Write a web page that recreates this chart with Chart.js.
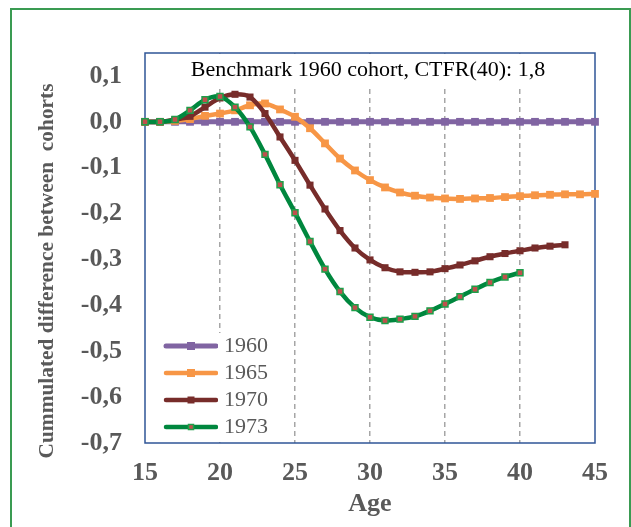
<!DOCTYPE html>
<html>
<head>
<meta charset="UTF-8" />
<title>Cummulated difference between cohorts</title>
<script src="https://cdn.jsdelivr.net/npm/chart.js"></script>
<style>
  body { margin: 0; background: #fff; overflow: hidden; }
  #frame { position: absolute; left: 10px; top: 8px; width: 617px; height: 600px; border: 2px solid #3a9b52; }
  #wrap { position: absolute; left: 0; top: 0; width: 631px; height: 527px; }
</style>
</head>
<body>
<div id="frame"></div>
<div id="wrap"><canvas id="cohortChart"></canvas></div>
<script>
// ages on the x axis (one point per year)
const ages = [15, 16, 17, 18, 19, 20, 21, 22, 23, 24, 25, 26, 27, 28, 29, 30,
              31, 32, 33, 34, 35, 36, 37, 38, 39, 40, 41, 42, 43, 44, 45];

// cumulated difference vs the 1960 cohort
const cohort1960 = [0, 0, 0, 0, 0, 0, 0, 0, 0, 0, 0, 0, 0, 0, 0, 0,
                    0, 0, 0, 0, 0, 0, 0, 0, 0, 0, 0, 0, 0, 0, 0];
const cohort1965 = [0, 0, 0.002, 0.006, 0.013, 0.018, 0.025, 0.036, 0.040, 0.027, 0.011,
                    -0.014, -0.047, -0.080, -0.106, -0.127, -0.143, -0.154, -0.161, -0.165, -0.167,
                    -0.168, -0.167, -0.166, -0.164, -0.162, -0.160, -0.159, -0.158, -0.158, -0.157];
const cohort1970 = [0, 0, 0.005, 0.012, 0.032, 0.052, 0.060, 0.054, 0.018, -0.033, -0.084,
                    -0.138, -0.190, -0.237, -0.275, -0.301, -0.318, -0.327, -0.328, -0.327, -0.320,
                    -0.312, -0.303, -0.294, -0.287, -0.281, -0.275, -0.271, -0.268];
const cohort1973 = [0, 0, 0.005, 0.025, 0.048, 0.055, 0.032, -0.011, -0.071, -0.137, -0.198,
                    -0.261, -0.321, -0.370, -0.405, -0.426, -0.433, -0.430, -0.424, -0.412, -0.397,
                    -0.381, -0.365, -0.350, -0.338, -0.329];

const seriesNames = ['1960', '1965', '1970', '1973'];
const xTicks = [15, 20, 25, 30, 35, 40, 45];
const yTicks = [-0.7, -0.6, -0.5, -0.4, -0.3, -0.2, -0.1, 0, 0.1];

const headerText = 'Benchmark 1960 cohort, CTFR(40): 1,8';
const yTitleText = 'Cummulated difference between  cohorts';

const serif = '"Liberation Serif", "Times New Roman", serif';
const grey = '#595959';

function toPoints(values) {
    return values.map((v, i) => ({ x: ages[i], y: v }));
}

// legend symbol: line with a square marker in the middle
function legendIcon(lineColor, lineWidth, fill, edge, side) {
    const c = document.createElement('canvas');
    c.width = 73; c.height = 12;
    const g = c.getContext('2d');
    g.strokeStyle = lineColor;
    g.lineWidth = lineWidth;
    g.lineCap = 'round';
    g.beginPath(); g.moveTo(21, 6); g.lineTo(71, 6); g.stroke();
    g.fillStyle = fill;
    g.fillRect(46 - side / 2, 6 - side / 2, side, side);
    if (edge) {
        g.strokeStyle = edge; g.lineWidth = 1.5;
        g.strokeRect(46 - side / 2, 6 - side / 2, side, side);
    }
    return c;
}

const legendIcons = [
    legendIcon('#8064A2', 5, '#8064A2', null, 8),
    legendIcon('#F79646', 4.5, '#F79646', null, 8),
    legendIcon('#772C2A', 4.5, '#772C2A', null, 7),
    legendIcon('#00873E', 4.5, '#C0504D', '#1E9E4A', 5)
];

const decor = {
    id: 'decor',
    afterLayout(chart) {
        // keep the legend inside the plot area
        const a = chart.chartArea, lg = chart.legend;
        lg.left = a.left; lg.right = a.right; lg.top = a.top; lg.bottom = a.bottom;
    },
    beforeDatasetsDraw(chart) {
        const ctx = chart.ctx, a = chart.chartArea;
        ctx.save();
        // header with its white box
        ctx.font = '22px ' + serif;
        const w = ctx.measureText(headerText).width;
        const cx = (a.left + a.right) / 2 - 2;
        ctx.fillStyle = '#fff';
        ctx.fillRect(cx - w / 2 - 6, a.top + 1, w + 12, 34);
        ctx.fillStyle = '#000';
        ctx.textAlign = 'center';
        ctx.textBaseline = 'middle';
        ctx.fillText(headerText, cx, a.top + 17);
        // white legend box, then legend again on top
        ctx.fillStyle = '#fff';
        ctx.fillRect(a.left + 4, a.bottom - 110, 143, 109);
        ctx.restore();
        chart.legend.draw();
        // plot frame
        ctx.save();
        ctx.strokeStyle = '#2F5597';
        ctx.lineWidth = 1.5;
        ctx.strokeRect(a.left, a.top, a.right - a.left, a.bottom - a.top);
        ctx.restore();
    },
    afterDraw(chart) {
        const ctx = chart.ctx;
        ctx.save();
        ctx.translate(47, 271);
        ctx.rotate(-Math.PI / 2);
        ctx.font = 'bold 21.4px ' + serif;
        ctx.fillStyle = grey;
        ctx.textAlign = 'center';
        ctx.textBaseline = 'middle';
        ctx.fillText(yTitleText, 0, 0);
        ctx.restore();
    }
};

new Chart(document.getElementById('cohortChart'), {
    type: 'line',
    data: {
        datasets: [
            {
                label: seriesNames[0], data: toPoints(cohort1960), order: 4,
                borderColor: '#8064A2', backgroundColor: '#8064A2', borderWidth: 5,
                pointStyle: 'rect', pointRadius: 5.5, pointBorderWidth: 0,
                pointBackgroundColor: '#8064A2'
            },
            {
                label: seriesNames[1], data: toPoints(cohort1965), order: 3,
                borderColor: '#F79646', backgroundColor: '#F79646', borderWidth: 4.5,
                pointStyle: 'rect', pointRadius: 5.5, pointBorderWidth: 0,
                pointBackgroundColor: '#F79646'
            },
            {
                label: seriesNames[2], data: toPoints(cohort1970), order: 2,
                borderColor: '#772C2A', backgroundColor: '#772C2A', borderWidth: 4.5,
                pointStyle: 'rect', pointRadius: 5, pointBorderWidth: 0,
                pointBackgroundColor: '#772C2A'
            },
            {
                label: seriesNames[3], data: toPoints(cohort1973), order: 1,
                borderColor: '#00873E', backgroundColor: '#00873E', borderWidth: 4.5,
                pointStyle: 'rect', pointRadius: 4.2, pointBorderWidth: 1.5,
                pointBackgroundColor: '#C0504D', pointBorderColor: '#1E9E4A'
            }
        ]
    },
    options: {
        responsive: true,
        maintainAspectRatio: false,
        animation: false,
        datasets: { line: { tension: 0.3, clip: false } },
        layout: { padding: { left: 0, top: 53, right: 36, bottom: 0 } },
        plugins: {
            tooltip: { enabled: false },
            legend: {
                position: 'chartArea',
                align: 'end',
                labels: {
                    usePointStyle: true,
                    pointStyleWidth: 63,
                    padding: 5,
                    color: grey,
                    font: { family: serif, size: 22 },
                    sort: (a, b) => a.datasetIndex - b.datasetIndex,
                    generateLabels: chart =>
                        Chart.defaults.plugins.legend.labels.generateLabels(chart)
                            .map(item => ({ ...item, pointStyle: legendIcons[item.datasetIndex] }))
                }
            }
        },
        scales: {
            x: {
                type: 'linear',
                min: 15,
                max: 45,
                afterBuildTicks: s => { s.ticks = xTicks.map(v => ({ value: v })); },
                afterFit: s => { s.height = 84; },
                ticks: {
                    color: grey, padding: 15,
                    font: { family: serif, size: 26, weight: 'bold' }
                },
                grid: {
                    drawTicks: false,
                    lineWidth: 1.5,
                    color: c => (c.tick && (c.tick.value === 15 || c.tick.value === 45)) ? 'rgba(0,0,0,0)' : '#A6A6A6'
                },
                border: { display: false, dash: [5, 4] },
                title: {
                    display: true, text: 'Age', color: grey,
                    font: { family: serif, size: 26, weight: 'bold' },
                    padding: { top: 0, bottom: 7 }
                }
            },
            y: {
                type: 'linear',
                min: -0.7,
                max: 0.15,
                afterBuildTicks: s => { s.ticks = yTicks.map(v => ({ value: v })); },
                afterFit: s => { s.width = 145; },
                ticks: {
                    color: grey, padding: 23,
                    font: { family: serif, size: 26, weight: 'bold' },
                    callback: v => v.toFixed(1).replace('.', ',')
                },
                grid: { display: false, drawTicks: false },
                border: { display: false }
            }
        }
    },
    plugins: [decor]
});
</script>
</body>
</html>
